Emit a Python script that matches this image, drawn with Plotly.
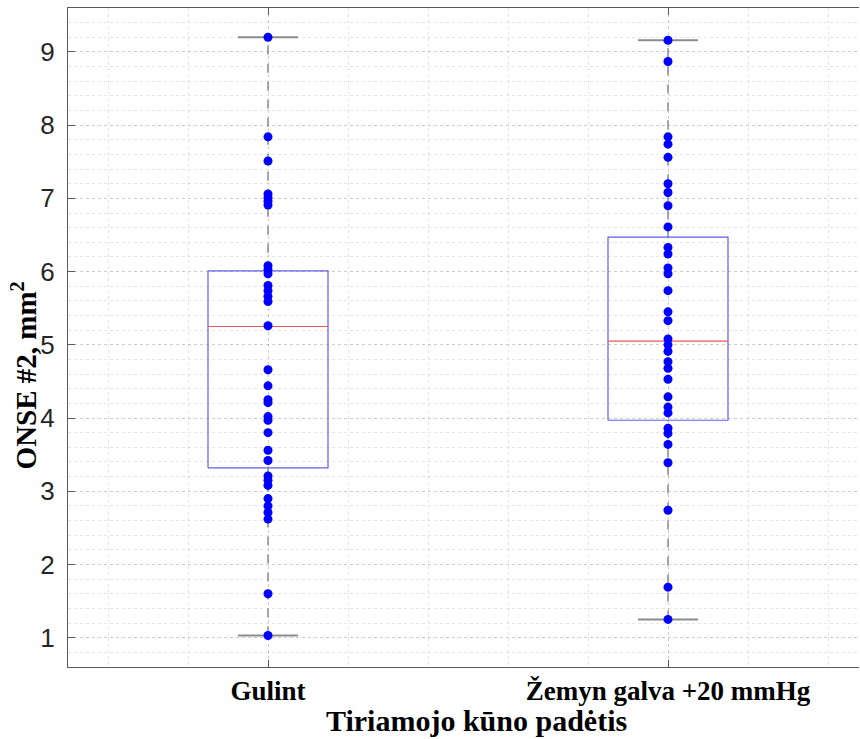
import plotly.graph_objects as go

# ---------------- data ----------------
categories = ["Gulint", "Žemyn galva +20 mmHg"]
positions = [1, 2]

gulint_values = [9.20, 7.84, 7.51, 7.06, 7.01, 6.96, 6.91, 6.08, 6.03, 5.97,
                 5.81, 5.74, 5.66, 5.59, 5.26, 4.66, 4.44, 4.25, 4.21, 4.02,
                 3.97, 3.80, 3.56, 3.42, 3.21, 3.15, 3.08, 2.90, 2.80, 2.71,
                 2.62, 1.60, 1.03]
zemyn_values = [9.16, 8.87, 7.84, 7.74, 7.56, 7.20, 7.08, 6.90, 6.61, 6.33,
                6.24, 6.05, 5.97, 5.74, 5.45, 5.33, 5.08, 5.00, 4.91, 4.77,
                4.68, 4.53, 4.29, 4.15, 4.07, 3.86, 3.79, 3.64, 3.39, 2.74,
                1.69, 1.25]
series_values = [gulint_values, zemyn_values]

box_q1 = [3.32, 3.97]
box_median = [5.25, 5.05]
box_q3 = [6.01, 6.47]
whisker_low = [1.03, 1.25]
whisker_high = [9.20, 9.16]

y_tick_values = [1, 2, 3, 4, 5, 6, 7, 8, 9]

# ---------------- style ----------------
BOX_HALF = 0.15
CAP_HALF = 0.075
BOX_COLOR = "rgb(95,95,230)"
MED_COLOR = "rgb(235,90,90)"
WHISK_COLOR = "rgb(140,140,140)"
PT_COLOR = "rgb(0,0,255)"
GRID = "rgba(0,0,0,0.10)"
AXIS = "rgb(90,90,90)"

fig = go.Figure()

for pos, q1, med, q3, lo, hi, vals in zip(positions, box_q1, box_median, box_q3,
                                         whisker_low, whisker_high, series_values):
    # whiskers (dashed)
    fig.add_trace(go.Scatter(x=[pos, pos], y=[q3, hi], mode="lines",
                             line=dict(color=WHISK_COLOR, width=1.5, dash="dash"),
                             hoverinfo="skip", showlegend=False))
    fig.add_trace(go.Scatter(x=[pos, pos], y=[lo, q1], mode="lines",
                             line=dict(color=WHISK_COLOR, width=1.5, dash="dash"),
                             hoverinfo="skip", showlegend=False))
    # caps
    for v in (lo, hi):
        fig.add_trace(go.Scatter(x=[pos - CAP_HALF, pos + CAP_HALF], y=[v, v], mode="lines",
                                 line=dict(color=WHISK_COLOR, width=2),
                                 hoverinfo="skip", showlegend=False))
    # box
    fig.add_trace(go.Scatter(x=[pos - BOX_HALF, pos + BOX_HALF, pos + BOX_HALF, pos - BOX_HALF, pos - BOX_HALF],
                             y=[q1, q1, q3, q3, q1], mode="lines",
                             line=dict(color=BOX_COLOR, width=1.2),
                             hoverinfo="skip", showlegend=False))
    # median
    fig.add_trace(go.Scatter(x=[pos - BOX_HALF, pos + BOX_HALF], y=[med, med], mode="lines",
                             line=dict(color=MED_COLOR, width=1.2),
                             hoverinfo="skip", showlegend=False))
    # points
    fig.add_trace(go.Scatter(x=[pos] * len(vals), y=vals, mode="markers",
                             marker=dict(color=PT_COLOR, size=9, line=dict(width=0)),
                             showlegend=False))

fig.update_layout(
    width=860, height=739,
    margin=dict(l=68, r=1, t=8, b=72),
    paper_bgcolor="white", plot_bgcolor="white",
    xaxis=dict(
        range=[0.5, 2.4775], tickvals=positions,
        ticktext=["<b>%s</b>" % c for c in categories],
        tickfont=dict(family="Liberation Serif", size=27, color="black"),
        ticks="inside", ticklen=7, tickcolor=AXIS,
        showline=True, linecolor=AXIS, linewidth=1, mirror="ticks",
        showgrid=True, gridcolor=GRID, griddash="dot", gridwidth=1,
        minor=dict(dtick=0.2, tick0=0, showgrid=True, gridcolor=GRID, griddash="dot", ticks=""),
        zeroline=False, ticklabelstandoff=0,
    ),
    yaxis=dict(
        range=[0.6, 9.6], tickvals=y_tick_values,
        tickfont=dict(family="Liberation Sans", size=26, color="rgb(38,38,38)"),
        ticks="inside", ticklen=7, tickcolor=AXIS,
        showline=True, linecolor=AXIS, linewidth=1,
        showgrid=True, gridcolor=GRID, griddash="dot", gridwidth=1,
        minor=dict(dtick=0.2, tick0=0, showgrid=True, gridcolor=GRID, griddash="dot", ticks=""),
        zeroline=False, ticklabelstandoff=7,
    ),
    annotations=[
        dict(text="<b>Tiriamojo kūno padėtis</b>", xref="paper", yref="paper",
             x=0.517, y=-0.0805, xanchor="center", yanchor="middle", showarrow=False,
             font=dict(family="Liberation Serif", size=30, color="black")),
        dict(text="<b>ONSE #2, mm<sup>2</sup></b>", xref="paper", yref="paper",
             x=-0.056, y=0.442, xanchor="center", yanchor="middle", showarrow=False,
             textangle=-90,
             font=dict(family="Liberation Serif", size=29, color="black")),
    ],
)

fig.write_html("out.html")
